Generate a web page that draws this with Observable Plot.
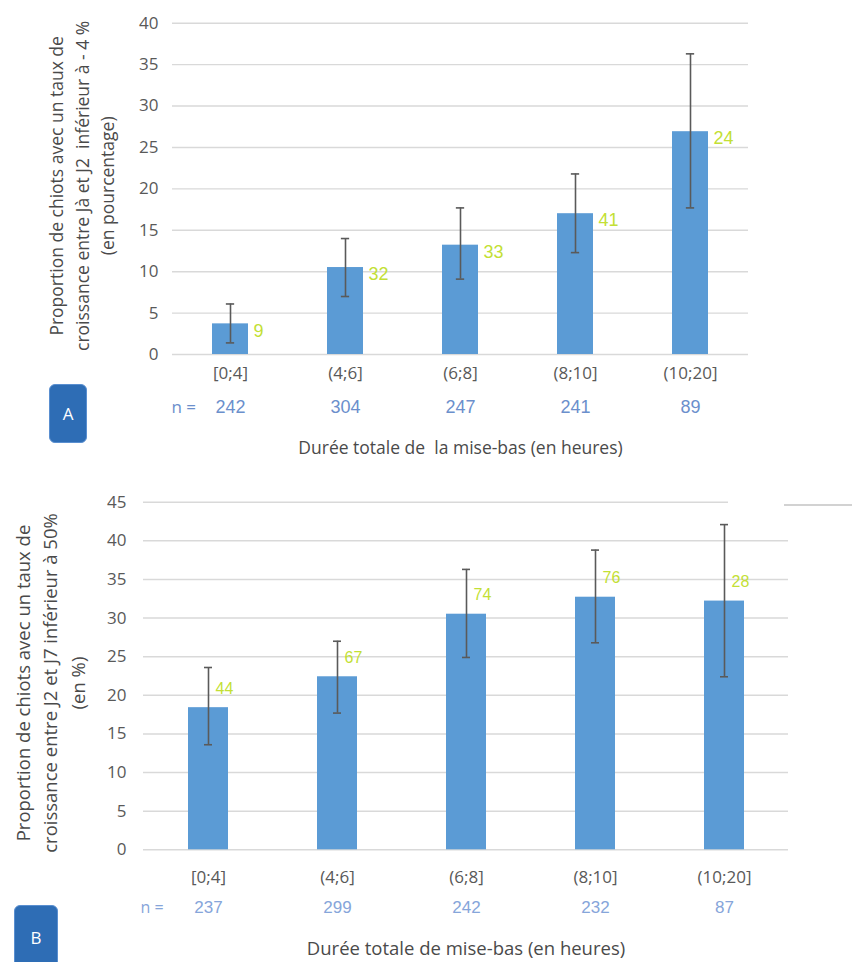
<!DOCTYPE html>
<html>
<head>
<meta charset="utf-8">
<script src="https://cdn.jsdelivr.net/npm/d3@7"></script>
<script src="https://cdn.jsdelivr.net/npm/@observablehq/plot@0.6"></script>
<style>
  body { margin: 0; background: #fff; }
  #wrap { position: relative; width: 852px; height: 962px; overflow: hidden; background: #fff; font-family: "Open Sans", sans-serif; }
  .panel { position: absolute; left: 0; }
  .box { position: absolute; background: #2e6db5; border: 1px solid #5a8fd0; border-radius: 6px; color: #fff;
         font-family: "Open Sans", sans-serif; font-size: 17px; display: flex; align-items: center; justify-content: center; box-sizing: border-box; }
  .deco { position: absolute; z-index: 5; }
</style>
</head>
<body>
<div id="wrap">
  <div id="pa" class="panel" style="top:0"></div>
  <div id="pb" class="panel" style="top:470px"></div>
  <div class="box" style="left:49px; top:384px; width:38px; height:59px;">A</div>
  <div class="box" style="left:14px; top:905px; width:44px; height:72px; padding-bottom:8px;">B</div>
  <div class="deco" style="left:728px; top:500px; width:62px; height:4px; background:#fff;"></div>
  <div class="deco" style="left:784px; top:504px; width:68px; height:2px; background:#d2d2d2;"></div>
</div>
<script>
// ---- Panel A data ----
const catsA = ["[0;4]", "(4;6]", "(6;8]", "(8;10]", "(10;20]"];
const valA  = [3.7, 10.5, 13.2, 17.0, 26.9];
const loA   = [1.4, 7.0, 9.1, 12.3, 17.7];
const hiA   = [6.1, 14.0, 17.7, 21.8, 36.3];
const lblA  = [9, 32, 33, 41, 24];
const nA    = [242, 304, 247, 241, 89];
const ticksA = [0, 5, 10, 15, 20, 25, 30, 35, 40];
const yTitleA = "Proportion de chiots avec un taux de\ncroissance entre Jà et J2  inférieur à - 4 %\n(en pourcentage)";
const xTitleA = "Durée totale de  la mise-bas (en heures)";

// ---- Panel B data ----
const catsB = ["[0;4]", "(4;6]", "(6;8]", "(8;10]", "(10;20]"];
const valB  = [18.4, 22.4, 30.5, 32.7, 32.2];
const loB   = [13.6, 17.7, 24.9, 26.8, 22.4];
const hiB   = [23.6, 27.0, 36.3, 38.8, 42.1];
const lblB  = [44, 67, 74, 76, 28];
const nB    = [237, 299, 242, 232, 87];
const ticksB = [0, 5, 10, 15, 20, 25, 30, 35, 40, 45];
const yTitleB = "Proportion de chiots avec un taux de\ncroissance entre J2 et J7 inférieur à 50%\n(en %)";
const xTitleB = "Durée totale de mise-bas (en heures)";

const BAR = "#5b9bd5", ERR = "#5a5a5a", GREEN = "#c3df35", GRID = "#d9d9d9", TXT = "#595959";

function panel(c) {
  const data = c.cats.map((cat, i) => ({cat, v: c.vals[i], lo: c.lo[i], hi: c.hi[i], lbl: c.lbl[i], n: c.n[i]}));
  const bw = (c.width - c.ml - c.mr) / c.cats.length * 0.31;
  const inset = (bw - 8) / 2;
  return Plot.plot({
    width: c.width, height: c.height,
    marginLeft: c.ml, marginRight: c.mr, marginTop: c.mt, marginBottom: c.mb,
    style: {fontFamily: "'Open Sans', sans-serif", fontSize: "17px", color: TXT, background: "transparent", overflow: "visible"},
    x: {domain: c.cats, paddingInner: 0.69, paddingOuter: 0.345},
    y: {domain: [0, c.ticks[c.ticks.length - 1]]},
    marks: [
      Plot.ruleY(c.ticks, {y: d => d, stroke: GRID, strokeWidth: 1.4}),
      Plot.barY(data, {x: "cat", y: "v", fill: BAR}),
      Plot.ruleX(data, {x: "cat", y1: "lo", y2: "hi", stroke: ERR, strokeWidth: 1.6}),
      Plot.tickY(data, {x: "cat", y: "lo", stroke: ERR, strokeWidth: 1.6, insetLeft: inset, insetRight: inset}),
      Plot.tickY(data, {x: "cat", y: "hi", stroke: ERR, strokeWidth: 1.6, insetLeft: inset, insetRight: inset}),
      Plot.text(data, {x: "cat", y: "v", text: "lbl", dx: c.lblDx, dy: c.lblDy, textAnchor: "start",
        fill: GREEN, fontSize: c.lblSize, fontFamily: "'Liberation Sans', Arial, sans-serif"}),
      Plot.axisY({ticks: c.ticks, tickSize: 0, tickPadding: c.yPad, label: null, fill: TXT, fontSize: 17}),
      Plot.axisX({tickSize: 0, tickPadding: c.xPad, label: null, fill: TXT, fontSize: 17}),
      Plot.text(data, {x: "cat", text: "n", frameAnchor: "bottom", dy: c.nDy, lineAnchor: "middle",
        fill: c.nColor, fontSize: c.nSize, fontFamily: "'Liberation Sans', Arial, sans-serif"}),
      Plot.text(["n ="], {text: d => d, frameAnchor: "bottom-left", textAnchor: "start", lineAnchor: "middle",
        dx: c.nLabDx, dy: c.nDy, fill: c.nColor, fontSize: c.nSize - 1}),
      Plot.text([c.xTitle], {text: d => d, frameAnchor: "bottom", lineAnchor: "middle", dy: c.xtDy,
        fill: "#4a4a4a", fontSize: c.titleSize}),
      Plot.text([c.yTitle], {text: d => d, frameAnchor: "left", rotate: -90, textAnchor: "middle", lineAnchor: "middle",
        dx: c.ytDx, dy: c.ytDy, lineHeight: c.ytLH, fill: "#4a4a4a", fontSize: c.titleSize})
    ]
  });
}

document.getElementById("pa").appendChild(panel({
  cats: catsA, vals: valA, lo: loA, hi: hiA, lbl: lblA, n: nA, ticks: ticksA,
  width: 852, height: 470, ml: 172, mr: 104, mt: 22.7, mb: 116,
  yPad: 14, xPad: 12, lblDx: 23, lblDy: 7, lblSize: 18,
  nDy: 53, nSize: 18, nColor: "#6b8fcc", nLabDx: -1,
  xTitle: xTitleA, xtDy: 94, yTitle: yTitleA, ytDx: -92, ytDy: -3, ytLH: 1.46, titleSize: 17.5
}));

document.getElementById("pb").appendChild(panel({
  cats: catsB, vals: valB, lo: loB, hi: hiB, lbl: lblB, n: nB, ticks: ticksB,
  width: 852, height: 492, ml: 143, mr: 64, mt: 31.7, mb: 112.7,
  yPad: 17, xPad: 21, lblDx: 7, lblDy: -19, lblSize: 16,
  nDy: 58, nSize: 17, nColor: "#86a5da", nLabDx: -3,
  xTitle: xTitleB, xtDy: 99, yTitle: yTitleB, ytDx: -95, ytDy: 7, ytLH: 1.51, titleSize: 18.5
}));
</script>
</body>
</html>
